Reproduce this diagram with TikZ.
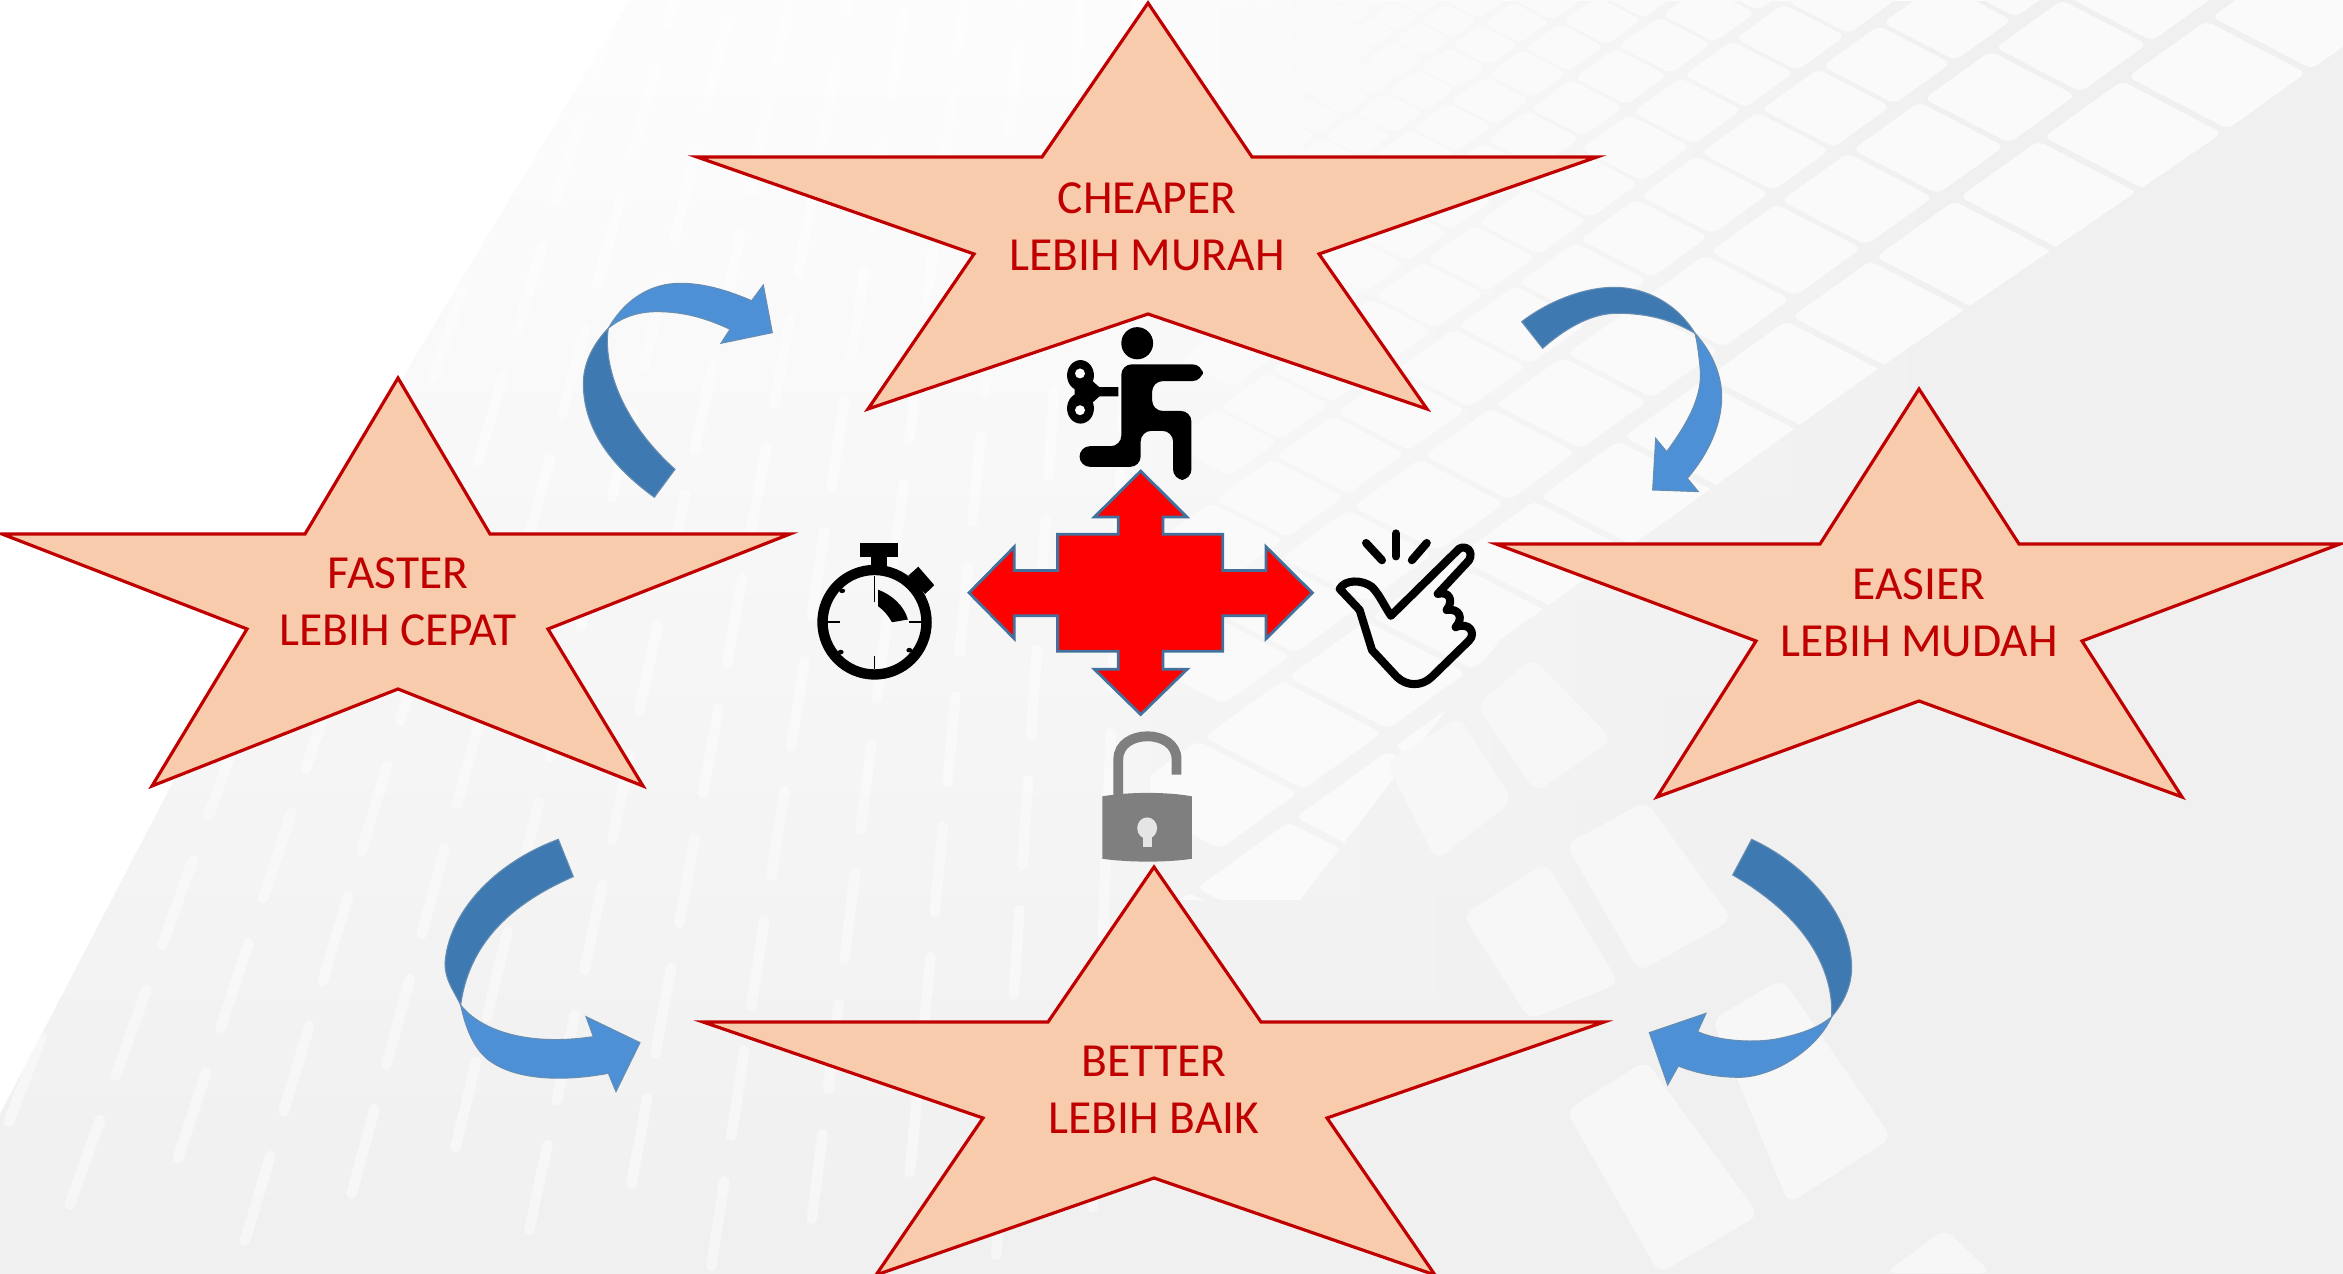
\documentclass[tikz,border=0pt]{standalone}
\usepackage{fontspec}
\setmainfont{Carlito}
\usepackage{xcolor}
\usetikzlibrary{fadings}
\definecolor{starfill}{HTML}{F7CBAC}
\definecolor{starline}{HTML}{C00000}
\definecolor{arrowdark}{HTML}{3F79B2}
\definecolor{arrowlight}{HTML}{4D90D6}
\definecolor{crossline}{HTML}{41719C}
\definecolor{lockgray}{HTML}{7F7F7F}
\tikzset{
  starshape/.style={fill=starfill, draw=starline, line width=0.9pt, line join=miter},
  starlabel/.style={text=starline, align=center, font=\fontsize{13.5}{16.3}\selectfont, inner sep=0pt},
  bendarrow/.style={fill=#1, draw=crossline!80, line width=0.3pt},
  iconline/.style={draw=black, line width=2.3pt, line cap=round, line join=round},
  bigcell/.style={fill=black!3, rounded corners=3pt}
}

\begin{document}
\begin{tikzpicture}[x=0.01cm, y=-0.01cm]
    \useasboundingbox (0,0) rectangle (2343,1274);

    % Background building
    \fill[white] (0,0) rectangle (2343,1274);
    \shade[top color=black!1, bottom color=black!6] (0,1114) -- (172,784) -- (415,357) -- (587,71) -- (630,0) -- (2343,0) -- (2343,1274) -- (0,1274) -- cycle;
    \fill[black!6, path fading=west] (1150,0) rectangle (2000,1274);
    \fill[black!6] (2000,0) rectangle (2343,1274);

    % Windows on the lit side
    \begin{scope}
        \clip (1150,0) -- (2343,0) -- (2343,50) -- (1869,375) -- (1500,640) -- (1300,900) -- (1150,900) -- cycle;
        \foreach \i in {-9,...,9} {
            \foreach \j in {-4,...,12} {
                \pgfmathsetmacro\cellsize{0.85^\j}
                \pgfmathsetmacro\cellgap{(1-\cellsize)/0.15}
                \pgfmathsetmacro\cellx{1965+84*\i*\cellsize-108*\cellgap}
                \pgfmathsetmacro\celly{255-60*\i*\cellsize-56*\cellgap}
                \fill[black!2, rounded corners=2pt]
                    ({\cellx+(39-50)*\cellsize},{\celly+(-28-26)*\cellsize}) --
                    ({\cellx+(39+50)*\cellsize},{\celly+(-28+26)*\cellsize}) --
                    ({\cellx+(-39+50)*\cellsize},{\celly+(28+26)*\cellsize}) --
                    ({\cellx+(-39-50)*\cellsize},{\celly+(28-26)*\cellsize}) -- cycle;
            }
        }
    \end{scope}

    % Large windows low on the lit side
    \begin{scope}[shift={(1300,560)}, xscale=0.665, yscale=0.455]
        \fill[bigcell] (265,320) -- (350,215) -- (470,395) -- (355,510) -- cycle;
        \fill[bigcell] (130,445) -- (240,345) -- (320,530) -- (205,660) -- cycle;
        \fill[bigcell] (400,625) -- (520,530) -- (650,790) -- (510,905) -- cycle;
        \fill[bigcell] (245,780) -- (370,665) -- (480,930) -- (345,1010) -- cycle;
        \fill[bigcell] (620,1010) -- (725,920) -- (890,1270) -- (735,1415) -- cycle;
        \fill[bigcell] (400,1210) -- (520,1100) -- (690,1440) -- (540,1568) -- cycle;
        \fill[bigcell] (880,1568) -- (970,1470) -- (1040,1568) -- cycle;
    \end{scope}

    % Streaks on the shaded side
    \begin{scope}
        \clip (0,1114) -- (172,784) -- (415,357) -- (587,71) -- (630,0) -- (1150,0) -- (1150,1274) -- (0,1274) -- cycle;
        \foreach \c in {0,...,20} {
            \foreach \r in {0,...,9} {
                \pgfmathsetmacro\streakx{-620+95*\c}
                \pgfmathsetmacro\streaklean{0.56-0.0003*(\streakx+620)}
                \pgfmathsetmacro\streaky{1274-130*\r-mod(\c*47,130)}
                \draw[white, opacity=0.45, line width=3pt, line cap=round]
                    ({\streakx+\streaklean*(1274-\streaky)},\streaky) --
                    ({\streakx+\streaklean*(1274-\streaky+85)},{\streaky-85});
            }
        }
    \end{scope}

    % Cheaper star
    \draw[starshape] (1148,3) -- (1252,157) -- (1597,157) -- (1319,254) -- (1427,409) -- (1148,314) -- (868,409) -- (974,254) -- (697,157) -- (1042,157) -- cycle;
    \node[starlabel] (cheaper) at (1147,227) {CHEAPER\\LEBIH MURAH};

    % Faster star
    \draw[starshape] (398,378) -- (490,534) -- (790,534) -- (548,629) -- (643,786) -- (398,689) -- (152,786) -- (247,629) -- (2,534) -- (305,534) -- cycle;
    \node[starlabel] (faster) at (398,602) {FASTER\\LEBIH CEPAT};

    % Easier star
    \draw[starshape] (1919,389) -- (2019,544) -- (2340,544) -- (2082,641) -- (2182,797) -- (1919,701) -- (1657,797) -- (1756,641) -- (1496,544) -- (1820,544) -- cycle;
    \node[starlabel] (easier) at (1919,613) {EASIER\\LEBIH MUDAH};

    % Better star
    \draw[starshape] (1154,867) -- (1261,1022) -- (1604,1022) -- (1327,1118) -- (1435,1275) -- (1154,1178) -- (876,1275) -- (983,1118) -- (703,1022) -- (1048,1022) -- cycle;
    \node[starlabel] (better) at (1154,1090) {BETTER\\LEBIH BAIK};

    % Arrow from Faster to Cheaper
    \begin{scope}[shift={(540,260)}, scale=0.3333]
        \draw[bendarrow=arrowdark] (343,712) .. controls (230,630) and (130,520) .. (130,370) .. controls (130,300) and (170,240) .. (205,205) .. controls (190,300) and (230,470) .. (405,628) -- cycle;
        \draw[bendarrow=arrowlight] (205,205) .. controls (260,110) and (340,70) .. (420,70) .. controls (500,70) and (570,95) .. (635,122) -- (670,75) -- (697,218) -- (543,250) -- (570,208) .. controls (480,165) and (410,155) .. (350,155) .. controls (290,155) and (240,175) .. (205,205) -- cycle;
    \end{scope}

    % Arrow from Cheaper to Easier
    \begin{scope}[shift={(1500,270)}, scale=0.3333]
        \draw[bendarrow=arrowdark] (65,155) .. controls (150,90) and (260,50) .. (350,52) .. controls (440,55) and (530,100) .. (585,190) .. controls (500,140) and (420,130) .. (350,130) .. controls (270,130) and (190,180) .. (128,235) -- cycle;
        \draw[bendarrow=arrowlight] (585,190) .. controls (640,250) and (665,320) .. (665,380) .. controls (665,480) and (610,570) .. (562,625) -- (595,665) -- (458,660) -- (467,505) -- (500,545) .. controls (570,450) and (610,370) .. (600,290) .. controls (595,240) and (590,210) .. (585,190) -- cycle;
    \end{scope}

    % Arrow from Easier to Better
    \begin{scope}[shift={(1630,820)}, scale=0.3333]
        \draw[bendarrow=arrowdark] (365,58) .. controls (500,120) and (660,260) .. (665,440) .. controls (665,500) and (640,550) .. (605,590) .. controls (610,480) and (560,310) .. (308,165) -- cycle;
        \draw[bendarrow=arrowlight] (605,590) .. controls (560,690) and (430,770) .. (330,772) .. controls (260,772) and (200,760) .. (145,738) -- (113,795) -- (58,638) -- (228,580) -- (203,635) .. controls (270,665) and (380,670) .. (450,655) .. controls (520,640) and (570,620) .. (605,590) -- cycle;
    \end{scope}

    % Arrow from Better to Faster
    \begin{scope}[shift={(420,820)}, scale=0.3333]
        \draw[bendarrow=arrowdark] (415,58) -- (460,170) .. controls (300,240) and (150,350) .. (122,555) .. controls (100,510) and (75,480) .. (75,430) .. controls (85,280) and (220,130) .. (415,58) -- cycle;
        \draw[bendarrow=arrowlight] (122,555) .. controls (180,630) and (320,680) .. (520,650) -- (498,590) -- (660,668) -- (588,815) -- (565,760) .. controls (430,785) and (300,780) .. (220,730) .. controls (170,700) and (140,640) .. (122,555) -- cycle;
    \end{scope}

    \begin{scope}[shift={(780,300)}, xscale=0.4975, yscale=0.3827]
        % Centre cross
        \draw[fill=red, draw=crossline, line width=0.8pt] (725,447) -- (818,567) -- (770,567) -- (770,612) -- (890,612) -- (890,707) -- (977,707) -- (977,645) -- (1070,765) -- (977,885) -- (977,825) -- (890,825) -- (890,918) -- (770,918) -- (770,965) -- (818,965) -- (725,1083) -- (632,965) -- (680,965) -- (680,918) -- (558,918) -- (558,825) -- (471,825) -- (471,885) -- (380,765) -- (471,645) -- (471,707) -- (558,707) -- (558,612) -- (680,612) -- (680,567) -- (632,567) -- cycle;

        % Wind-up figure
        \fill[black] (718,113) ellipse [x radius=32, y radius=42];
        \fill[black, rounded corners=3pt] (686,168) -- (850,168) -- (850,212) -- (748,212) -- (748,290) -- (827,290) -- (827,470) -- (790,470) -- (790,342) -- (725,342) -- (725,436) -- (602,436) -- (602,382) -- (686,382) -- cycle;
        \fill[black] (604,197) ellipse [x radius=27, y radius=40];
        \fill[black] (604,283) ellipse [x radius=27, y radius=40];
        \fill[black] (592,170) -- (642,228) -- (680,228) -- (680,252) -- (642,252) -- (592,310) -- cycle;
        \fill[white] (603,192) ellipse [x radius=10, y radius=13];
        \fill[white] (603,288) ellipse [x radius=10, y radius=13];

        % Stopwatch
        \fill[black, even odd rule] (190,842) ellipse [x radius=115, y radius=150] (190,842) ellipse [x radius=94, y radius=123];
        \fill[black] (160,635) rectangle (237,672);
        \fill[black] (182,672) rectangle (215,705);
        \fill[black] (258,720) -- (278,697) -- (310,745) -- (292,768) -- cycle;
        \fill[black] (197,757) .. controls (225,770) and (250,800) .. (257,835) -- (225,842) .. controls (218,825) and (208,810) .. (197,800) -- cycle;
        \draw[black, line width=0.5pt] (190,720) -- (190,790) (97,842) -- (120,842) (260,842) -- (285,842) (190,930) -- (190,965);
        \fill[black] (125,760) circle [radius=6];
        \fill[black] (260,915) circle [radius=6];
        \fill[black] (122,920) circle [radius=6];

        % Tapping hand
        \draw[iconline] (1228,825) -- (1365,650) .. controls (1378,640) and (1395,655) .. (1385,680) -- (1322,768) .. controls (1345,760) and (1355,785) .. (1340,810) .. controls (1365,805) and (1375,830) .. (1358,855) .. controls (1385,840) and (1400,870) .. (1385,890) -- (1310,985) .. controls (1290,1010) and (1260,1010) .. (1240,985) -- (1190,915) -- (1165,810) -- (1125,755) .. controls (1135,730) and (1170,730) .. (1190,750) .. controls (1205,770) and (1215,800) .. (1228,825);
        \draw[iconline] (1178,635) -- (1210,680);
        \draw[iconline] (1238,610) -- (1238,670);
        \draw[iconline] (1300,635) -- (1270,680);

        % Open lock
        \draw[lockgray, line width=2.8pt] (680,1300) -- (680,1200) .. controls (680,1120) and (797,1120) .. (797,1200) -- (797,1240);
        \fill[lockgray] (648,1297) .. controls (700,1285) and (780,1285) .. (828,1297) -- (828,1460) .. controls (780,1470) and (700,1470) .. (648,1460) -- cycle;
        \fill[white!90!black] (738,1380) ellipse [x radius=20, y radius=28];
        \fill[white!90!black] (730,1395) rectangle (748,1428);
    \end{scope}

\end{tikzpicture}
\end{document}
